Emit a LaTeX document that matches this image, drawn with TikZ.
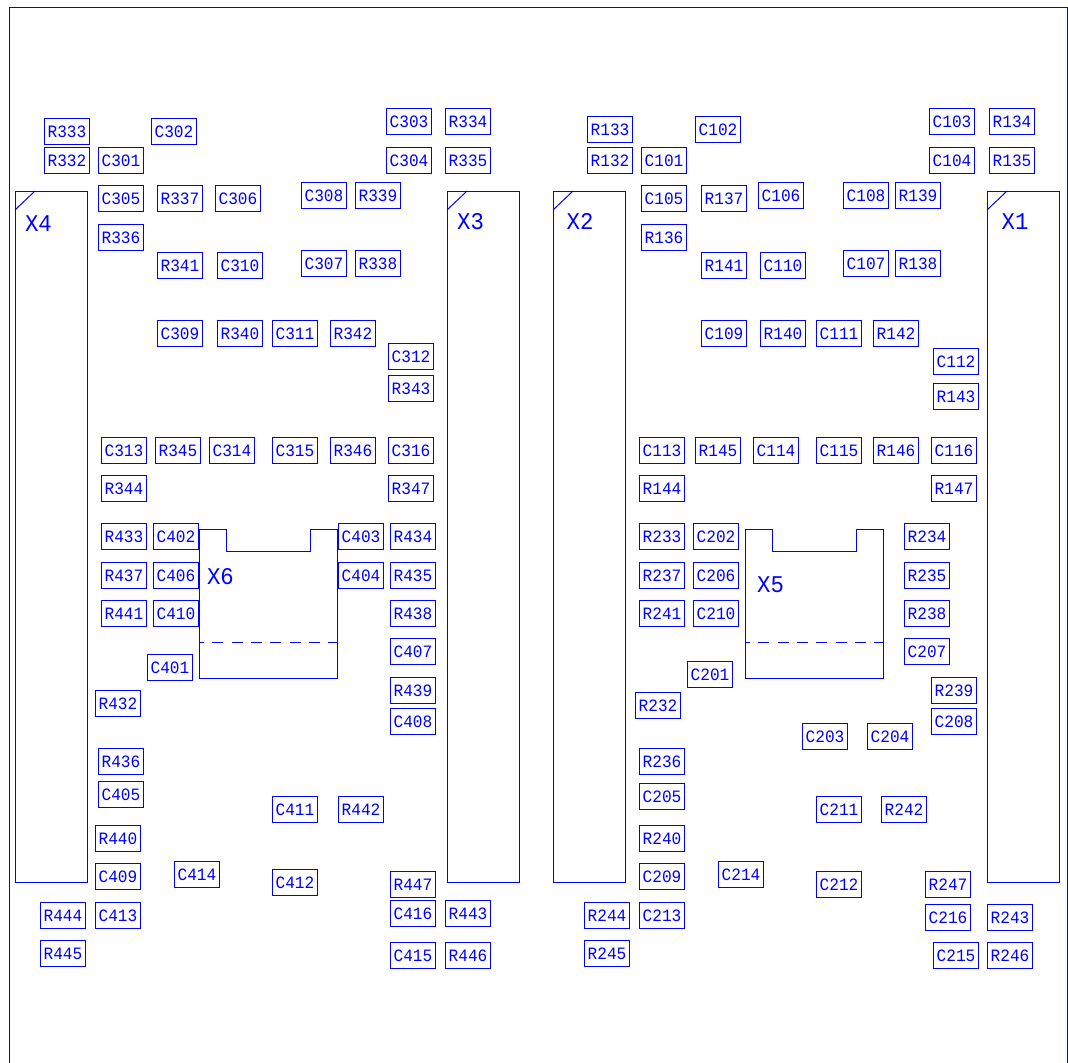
\documentclass[tikz,border=0pt]{standalone}
\usepackage{fontspec}
\setmonofont[FakeStretch=0.93]{Liberation Mono}
\definecolor{cad}{RGB}{0,0,255}
\tikzset{
  partbox/.style={draw=cad,line width=0.75pt,minimum width=33.75pt,minimum height=20pt,inner sep=0pt,text=cad,font=\ttfamily\fontsize{13}{13}\selectfont},
  bigpart/.style={inner sep=0pt,text=cad,font=\ttfamily\fontsize{18}{18}\selectfont},
  strip/.style={draw=cad,line width=0.75pt,minimum width=54pt,minimum height=518.25pt,inner sep=0pt},
  outline/.style={draw=cad,line width=0.75pt},
}
\begin{document}
\begin{tikzpicture}[x=0.75pt,y=-0.75pt]
\useasboundingbox (0,0) rectangle (1068,1063);
\draw[outline] (9.5,1063) -- (9.5,7.5) -- (1067.5,7.5) -- (1067.5,1063);
\begin{scope}[shift={(0,-0.5)}]
% parts
\foreach \n/\x/\y in {
R333/67/132,R332/67/161,C301/121/161,C302/174/132,C303/409/122,R334/468/122,C304/409/161,R335/468/161,
C305/121/199,R337/180/199,C306/238/199,C308/324/196,R339/378/196,R336/121/238,R341/180/266,C310/240/266,
C307/324/264,R338/378/264,C309/180/334,R340/240/334,C311/295/334,R342/353/334,C312/411/357,R343/411/389,
C313/124/451,R345/178/451,C314/232/451,C315/295/451,R346/353/451,C316/411/451,R344/124/489,R347/411/489,
R433/124/537,C402/176/537,C403/361/537,R434/413/537,R437/124/576,C406/176/576,C404/361/576,R435/413/576,
R441/124/614,C410/176/614,R438/413/614,C407/413/652,C401/170/668,R439/413/691,C408/413/722,R432/118/704,
R436/121/762,C405/121/795,R440/118/839,C409/118/877,C414/197/875,C411/295/810,R442/361/810,C412/295/883,
R447/413/885,C416/413/914,R443/468/914,R444/63/916,C413/118/916,R445/63/954,C415/413/956,R446/468/956,
R133/610/130,R132/610/161,C101/664/161,C102/718/130,C103/952/122,R134/1012/122,C104/952/161,R135/1012/161,
C105/664/199,R137/724/199,C106/781/196,C108/866/196,R139/918/196,R136/664/238,R141/724/266,C110/783/266,
C107/866/264,R138/918/264,C109/724/334,R140/783/334,C111/839/334,R142/896/334,C112/956/362,R143/956/397,
C113/662/451,R145/718/451,C114/776/451,C115/839/451,R146/896/451,C116/954/451,R144/662/489,R147/954/489,
R233/662/537,C202/716/537,R234/927/537,R237/662/576,C206/716/576,R235/927/576,R241/662/614,C210/716/614,
R238/927/614,C207/927/652,C201/710/675,R239/954/691,C208/954/722,R232/658/706,C203/825/737,C204/890/737,
R236/662/762,C205/662/797,R240/662/839,C209/662/877,C214/741/875,C211/839/810,R242/904/810,C212/839/885,
R247/948/885,R244/607/916,C213/662/916,C216/948/918,R243/1010/918,R245/607/954,C215/956/956,R246/1010/956}
  \node[partbox] (\n) at (\x,\y) {\n};
% strips
\foreach \n/\x/\lx/\ly in {X4/51.5/38.5/224,X3/483.5/470.5/222,X2/589.5/580/222,X1/1023.5/1015/222}{
  \node[strip] (\n) at (\x,537.5) {};
  \draw[outline] ([yshift=-14.25pt]\n.north west) -- ([xshift=15pt]\n.north west);
  \node[bigpart] (label\n) at (\lx,\ly) {\n};
}
% sockets
\foreach \n/\x/\mid/\lx/\ly in {X6/199.5/84/220.5/577,X5/745.5/84/770.5/585}{
  \draw[outline] (\x,530) -- ++(27,0) -- ++(0,22) -- ++(\mid,0) -- ++(0,-22) -- ++(27,0) -- ++(0,149) -| cycle;
  \draw[outline,dash pattern=on 8.25pt off 6.25pt,dash phase=4.9pt] (\x,643) -- ++(54+\mid,0);
  \node[bigpart] (label\n) at (\lx,\ly) {\n};
}
\end{scope}
\end{tikzpicture}
\end{document}
